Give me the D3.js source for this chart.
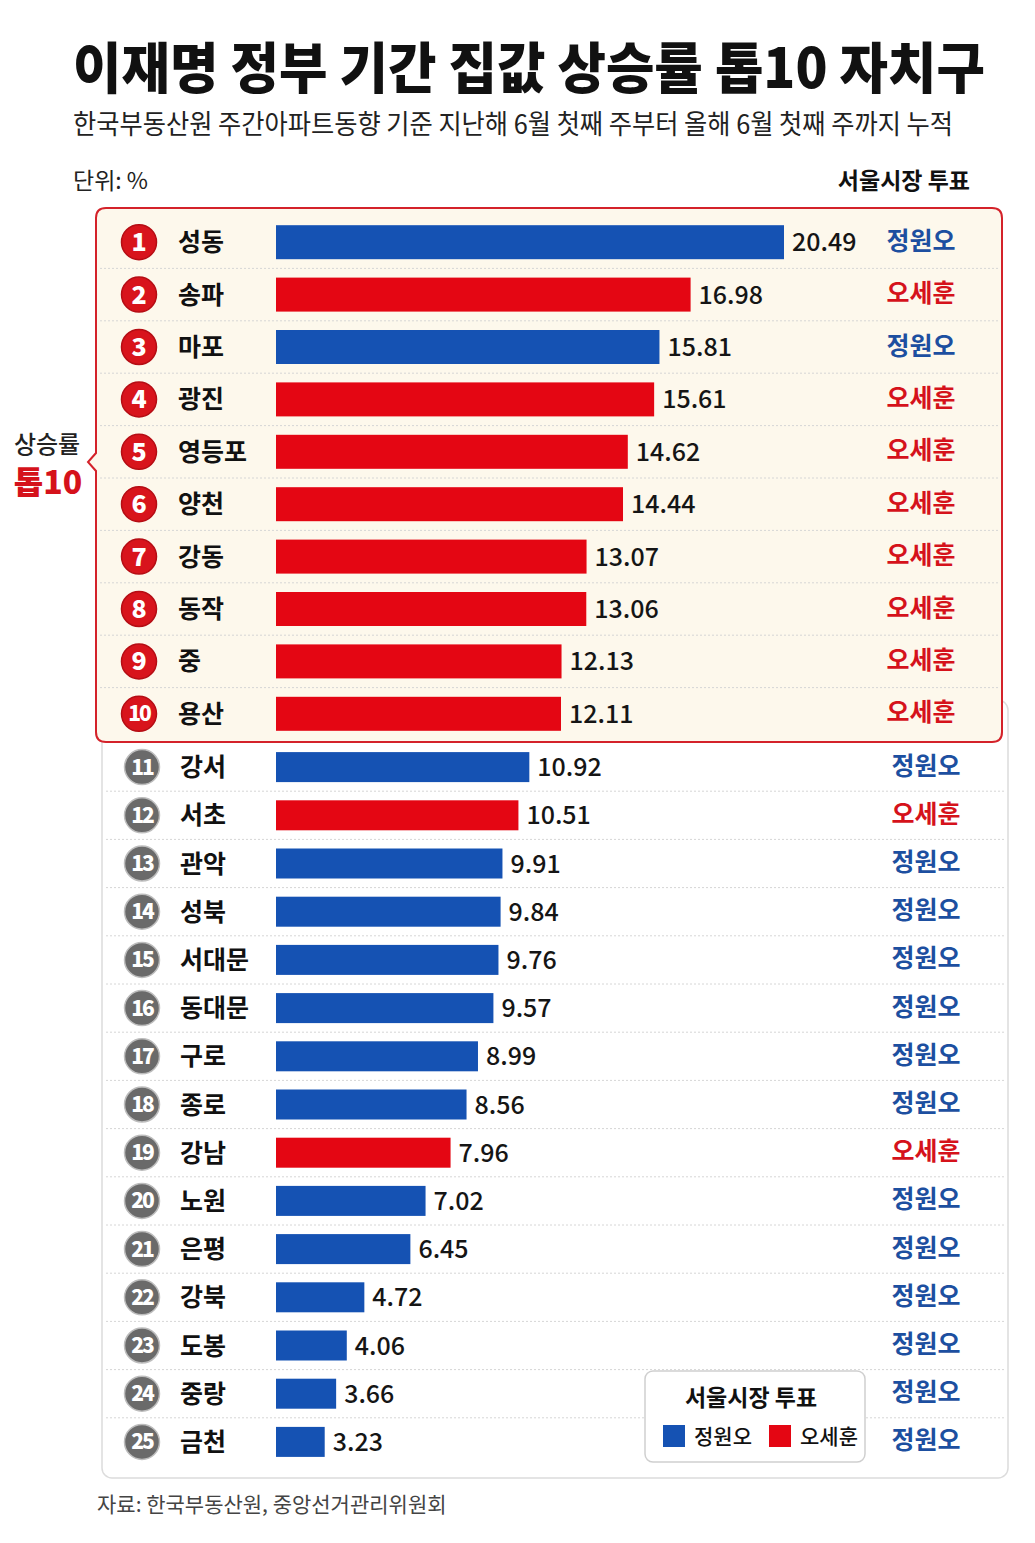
<html>
<head>
    <meta charset="utf-8">
    <script src="https://cdn.jsdelivr.net/npm/d3@7"></script>
    <style>
        body { margin: 0; background: #fff; }
        text { font-family: "Noto Sans CJK KR", "Noto Sans", sans-serif; }
        .sep { stroke: #d6d6d6; stroke-dasharray: 2 2; }
    </style>
</head>
<body>
    <svg width="1035" height="1543" id="chart"></svg>
    <script>
        // data
        const districts = ["성동", "송파", "마포", "광진", "영등포", "양천", "강동", "동작", "중", "용산",
            "강서", "서초", "관악", "성북", "서대문", "동대문", "구로", "종로", "강남", "노원",
            "은평", "강북", "도봉", "중랑", "금천"];
        const rates = [20.49, 16.98, 15.81, 15.61, 14.62, 14.44, 13.07, 13.06, 12.13, 12.11,
            10.92, 10.51, 9.91, 9.84, 9.76, 9.57, 8.99, 8.56, 7.96, 7.02,
            6.45, 4.72, 4.06, 3.66, 3.23];
        const votes = ["정원오", "오세훈", "정원오", "오세훈", "오세훈", "오세훈", "오세훈", "오세훈", "오세훈", "오세훈",
            "정원오", "오세훈", "정원오", "정원오", "정원오", "정원오", "정원오", "정원오", "오세훈", "정원오",
            "정원오", "정원오", "정원오", "정원오", "정원오"];
        const candidates = ["정원오", "오세훈"];

        const data = districts.map((d, i) => ({ rank: i + 1, name: d, rate: rates[i], vote: votes[i] }));
        const top10 = data.filter(d => d.rank <= 10);
        const rest = data.filter(d => d.rank > 10);

        const svg = d3.select("#chart");

        const barColor = d3.scaleOrdinal().domain(candidates).range(["#1552b3", "#e40613"]);
        const voteColor = d3.scaleOrdinal().domain(candidates).range(["#1d4fa0", "#d5121b"]);

        // two row scales, the top box has a slightly taller step
        const yTop = d3.scaleBand().domain(top10.map(d => d.rank)).range([216, 740]);
        const yRest = d3.scaleBand().domain(rest.map(d => d.rank)).range([743, 1466]);
        const yPos = d => d.rank <= 10 ? yTop(d.rank) + yTop.bandwidth() / 2 : yRest(d.rank) + yRest.bandwidth() / 2;

        const x = d3.scaleLinear().domain([1.4, 20.49]).range([276, 784]);

        // header
        svg.append("g").attr("transform", "translate(73, 88) scale(1, 1.12)")
            .append("text")
            .attr("textLength", 912).attr("lengthAdjust", "spacingAndGlyphs")
            .style("font-size", "49px").style("font-weight", 900).attr("fill", "#111")
            .text("이재명 정부 기간 집값 상승률 톱10 자치구");
        svg.append("text").attr("x", 73).attr("y", 134)
            .attr("textLength", 880).attr("lengthAdjust", "spacingAndGlyphs")
            .style("font-size", "27px").attr("fill", "#222")
            .text("한국부동산원 주간아파트동향 기준 지난해 6월 첫째 주부터 올해 6월 첫째 주까지 누적");
        svg.append("text").attr("x", 73).attr("y", 189).style("font-size", "23px").attr("fill", "#222").text("단위: %");
        svg.append("text").attr("x", 970).attr("y", 189).attr("text-anchor", "end")
            .style("font-size", "23px").style("font-weight", 600).attr("fill", "#111").text("서울시장 투표");

        // white panel for the rest
        svg.append("rect").attr("x", 102).attr("y", 700).attr("width", 906).attr("height", 778)
            .attr("rx", 10).attr("fill", "#fff").attr("stroke", "#dcdcdc").attr("stroke-width", 1.5);

        // top 10 box with a notch on the left
        const bx = 96, by = 208, bw = 906, bh = 534, r = 10, ny = 462;
        const boxPath = `M${bx + r},${by} H${bx + bw - r} Q${bx + bw},${by} ${bx + bw},${by + r}
            V${by + bh - r} Q${bx + bw},${by + bh} ${bx + bw - r},${by + bh} H${bx + r}
            Q${bx},${by + bh} ${bx},${by + bh - r} V${ny + 9} L${bx - 8},${ny} L${bx},${ny - 9}
            V${by + r} Q${bx},${by} ${bx + r},${by} Z`;
        svg.append("path").attr("d", boxPath).attr("fill", "#fdf8ec").attr("stroke", "#d4222a").attr("stroke-width", 2);

        svg.append("text").attr("x", 47).attr("y", 453).attr("text-anchor", "middle")
            .style("font-size", "24px").style("font-weight", 500).attr("fill", "#222").text("상승률");
        svg.append("text").attr("x", 48).attr("y", 494).attr("text-anchor", "middle")
            .style("font-size", "32px").style("font-weight", 800).attr("fill", "#d5121b").text("톱10");

        // separators between rows
        const seps = data.filter(d => d.rank !== 10 && d.rank !== 25);
        svg.append("g").selectAll("line").data(seps).join("line")
            .attr("class", "sep")
            .attr("x1", d => d.rank < 10 ? 100 : 106)
            .attr("x2", d => d.rank < 10 ? 998 : 1004)
            .attr("y1", d => d.rank < 10 ? yTop(d.rank) + yTop.step() : yRest(d.rank) + yRest.step())
            .attr("y2", d => d.rank < 10 ? yTop(d.rank) + yTop.step() : yRest(d.rank) + yRest.step());

        const rows = svg.append("g").selectAll("g").data(data).join("g")
            .attr("transform", d => `translate(0, ${yPos(d)})`);

        // rank badge
        rows.append("circle").attr("cx", d => d.rank <= 10 ? 139 : 142).attr("cy", 0).attr("r", 17.5)
            .attr("fill", d => d.rank <= 10 ? "#d8141c" : "#6a6a6a")
            .attr("stroke", d => d.rank <= 10 ? "#b50d14" : "#bdbdbd").attr("stroke-width", 1.5);
        rows.append("text").attr("x", d => d.rank <= 10 ? 139 : 142).attr("y", 0).attr("dy", "0.36em").attr("text-anchor", "middle")
            .style("font-size", d => d.rank < 10 ? "25px" : "21px").style("font-weight", 800)
            .attr("letter-spacing", d => d.rank < 10 ? 0 : -2)
            .attr("fill", "#fff").text(d => d.rank);

        // district name
        rows.append("text").attr("x", d => d.rank <= 10 ? 178 : 180).attr("y", 0).attr("dy", "0.36em")
            .style("font-size", "25px").style("font-weight", 600).attr("fill", "#111").text(d => d.name);

        // bars
        rows.append("rect").attr("x", x(1.4)).attr("y", d => d.rank <= 10 ? -17 : -15)
            .attr("width", d => x(d.rate) - x(1.4)).attr("height", d => d.rank <= 10 ? 34 : 30)
            .attr("fill", d => barColor(d.vote));

        // value labels
        rows.append("text").attr("x", d => x(d.rate) + 8).attr("y", 0).attr("dy", "0.36em")
            .style("font-size", "25px").style("font-weight", 500).attr("fill", "#151515")
            .text(d => d.rate.toFixed(2));

        // vote labels
        rows.append("text").attr("x", d => d.rank <= 10 ? 921 : 926).attr("y", 0).attr("dy", "0.3em").attr("text-anchor", "middle")
            .style("font-size", "25px").style("font-weight", 600).attr("fill", d => voteColor(d.vote))
            .text(d => d.vote);

        // legend
        const legend = svg.append("g").attr("transform", "translate(645, 1371)");
        legend.append("rect").attr("width", 220).attr("height", 91).attr("rx", 8)
            .attr("fill", "#fff").attr("stroke", "#cfcfcf").attr("stroke-width", 1.5);
        legend.append("text").attr("x", 106).attr("y", 35).attr("text-anchor", "middle")
            .style("font-size", "23px").style("font-weight", 600).attr("fill", "#111").text("서울시장 투표");
        const items = legend.selectAll(".item").data(candidates).join("g")
            .attr("class", "item").attr("transform", (d, i) => `translate(${18 + i * 106}, 54)`);
        items.append("rect").attr("width", 22).attr("height", 22).attr("fill", d => barColor(d));
        items.append("text").attr("x", 31).attr("y", 11).attr("dy", "0.36em")
            .style("font-size", "21px").style("font-weight", 500).attr("fill", "#111").text(d => d);

        // source
        svg.append("text").attr("x", 97).attr("y", 1512).style("font-size", "21px").attr("fill", "#444")
            .text("자료: 한국부동산원, 중앙선거관리위원회");
    </script>
</body>
</html>
